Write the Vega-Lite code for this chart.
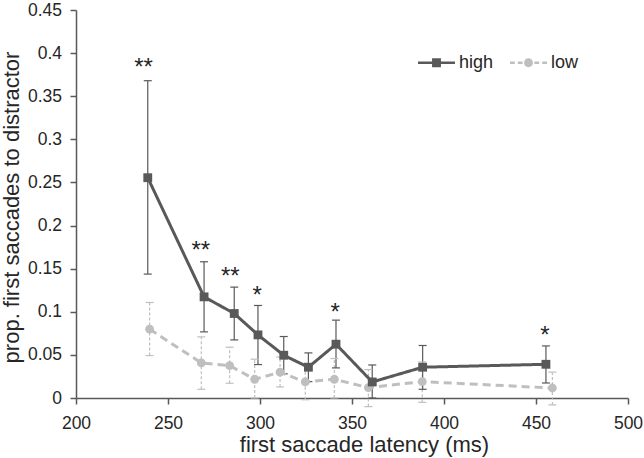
{
  "$schema": "https://vega.github.io/schema/vega-lite/v6.json",
  "width": 552,
  "height": 388,
  "autosize": {"type": "none"},
  "padding": {"left": 76, "top": 10, "right": 16, "bottom": 60},
  "background": "white",
  "config": {
    "view": {"stroke": null},
    "font": "Liberation Sans"
  },
  "datasets": {
    "series": [
      {"cond": "low", "latency": 240, "prop": 0.0798, "lo": 0.0492, "hi": 0.1108},
      {"cond": "low", "latency": 268.1, "prop": 0.0407, "lo": 0.0101, "hi": 0.0709},
      {"cond": "low", "latency": 283.5, "prop": 0.0376, "lo": 0.0171, "hi": 0.0589},
      {"cond": "low", "latency": 297.1, "prop": 0.0217, "lo": 0.0, "hi": 0.045},
      {"cond": "low", "latency": 310.9, "prop": 0.0299, "lo": 0.0128, "hi": 0.0476},
      {"cond": "low", "latency": 324.6, "prop": 0.0186, "lo": -0.002, "hi": 0.04},
      {"cond": "low", "latency": 340.4, "prop": 0.0217, "lo": 0.0, "hi": 0.0458},
      {"cond": "low", "latency": 358.9, "prop": 0.0121, "lo": -0.01, "hi": 0.033},
      {"cond": "low", "latency": 388.2, "prop": 0.019, "lo": -0.005, "hi": 0.0418},
      {"cond": "low", "latency": 458.9, "prop": 0.0116, "lo": -0.008, "hi": 0.03},
      {"cond": "high", "latency": 239, "prop": 0.2555, "lo": 0.1437, "hi": 0.368},
      {"cond": "high", "latency": 269.6, "prop": 0.1173, "lo": 0.0767, "hi": 0.158},
      {"cond": "high", "latency": 286, "prop": 0.098, "lo": 0.0674, "hi": 0.1286},
      {"cond": "high", "latency": 298.9, "prop": 0.0732, "lo": 0.0388, "hi": 0.1073},
      {"cond": "high", "latency": 312.9, "prop": 0.0496, "lo": 0.028, "hi": 0.0713},
      {"cond": "high", "latency": 326.3, "prop": 0.0357, "lo": 0.019, "hi": 0.0523},
      {"cond": "high", "latency": 341.3, "prop": 0.0624, "lo": 0.0349, "hi": 0.0903},
      {"cond": "high", "latency": 361, "prop": 0.0186, "lo": 0.0, "hi": 0.0383},
      {"cond": "high", "latency": 388.4, "prop": 0.0357, "lo": 0.0101, "hi": 0.0609},
      {"cond": "high", "latency": 455.4, "prop": 0.0391, "lo": 0.0174, "hi": 0.0604}
    ],
    "stars": [
      {"latency": 236.7, "pos": 0.389, "label": "**"},
      {"latency": 267.8, "pos": 0.176, "label": "**"},
      {"latency": 283.9, "pos": 0.146, "label": "**"},
      {"latency": 298.4, "pos": 0.124, "label": "*"},
      {"latency": 340.8, "pos": 0.1048, "label": "*"},
      {"latency": 454.9, "pos": 0.0775, "label": "*"}
    ]
  },
  "encoding": {
    "x": {
      "field": "latency", "type": "quantitative",
      "scale": {"domain": [200, 500], "nice": false, "zero": false},
      "axis": {
        "title": "first saccade latency (ms)",
        "values": [200, 250, 300, 350, 400, 450, 500],
        "grid": false,
        "domainColor": "#595959", "domainWidth": 1.5,
        "tickColor": "#595959", "tickWidth": 1.5, "tickSize": 6,
        "labelFontSize": 17.5, "labelColor": "#262626", "labelPadding": 10, "labelFlush": false,
        "titleFontSize": 22, "titleFontWeight": "normal", "titleColor": "#262626",
        "titleX": 288, "titleY": 53, "titleAlign": "center", "titleBaseline": "alphabetic"
      }
    }
  },
  "layer": [
    {
      "data": {"name": "series"},
      "layer": [
        {
          "mark": {"type": "rule", "strokeWidth": 1.2, "clip": false},
          "encoding": {
            "y": {
              "field": "lo", "type": "quantitative",
              "scale": {"domain": [0, 0.45], "nice": false},
              "axis": {
                "title": "prop. first saccades to distractor",
                "values": [0, 0.05, 0.1, 0.15, 0.2, 0.25, 0.3, 0.35, 0.4, 0.45],
                "format": ".2~f",
                "grid": false,
                "domainColor": "#595959", "domainWidth": 1.5,
                "tickColor": "#595959", "tickWidth": 1.5, "tickSize": 6,
                "labelFontSize": 17.5, "labelColor": "#262626", "labelPadding": 8.5, "labelFlush": false,
                "titleFontSize": 22, "titleFontWeight": "normal", "titleColor": "#262626",
                "titleX": -58, "titleY": 197, "titleBaseline": "alphabetic", "titleAlign": "center", "titleAngle": -90
              }
            },
            "y2": {"field": "hi"},
            "color": {"field": "cond", "type": "nominal", "scale": {"domain": ["high", "low"], "range": ["#595959", "#bfbfbf"]}},
            "strokeDash": {"condition": {"test": "datum.cond === 'low'", "value": [3, 2]}, "value": [1, 0]}
          }
        },
        {
          "mark": {"type": "tick", "thickness": 1.2, "size": 8, "orient": "horizontal", "opacity": 1},
          "encoding": {
            "y": {"field": "hi", "type": "quantitative"},
            "color": {"field": "cond", "type": "nominal"}
          }
        },
        {
          "mark": {"type": "tick", "thickness": 1.2, "size": 8, "orient": "horizontal", "opacity": 1},
          "encoding": {
            "y": {"field": "lo", "type": "quantitative"},
            "color": {"field": "cond", "type": "nominal"}
          }
        },
        {
          "mark": {"type": "line", "strokeWidth": 3},
          "encoding": {
            "y": {"field": "prop", "type": "quantitative"},
            "color": {
              "field": "cond", "type": "nominal",
              "legend": {
                "orient": "none", "legendX": 342, "legendY": 34,
                "direction": "horizontal", "title": null,
                "symbolSize": 1369, "symbolStrokeWidth": 0,
                "labelFontSize": 18, "labelColor": "#262626", "labelFont": "Liberation Sans",
                "columnPadding": 16, "labelOffset": 4, "padding": 0,
                "encode": {
                  "symbols": {
                    "update": {
                      "shape": {"signal": "datum.value === 'high' ? 'M-1,-0.07H1V0.07H-1Z M-0.24,-0.24H0.24V0.24H-0.24Z' : 'M-1,-0.07H-0.74V0.07H-1Z M-0.58,-0.07H-0.32V0.07H-0.58Z M0.32,-0.07H0.58V0.07H0.32Z M0.74,-0.07H1V0.07H0.74Z M-0.24,0A0.24,0.24 0 1,0 0.24,0A0.24,0.24 0 1,0 -0.24,0Z'"},
                      "fill": {"signal": "datum.value === 'high' ? '#595959' : '#bfbfbf'"},
                      "stroke": {"value": "transparent"},
                      "strokeDash": {"value": []},
                      "opacity": {"value": 1},
                      "size": {"value": 1369}
                    }
                  }
                }
              }
            },
            "strokeDash": {"condition": {"test": "datum.cond === 'low'", "value": [8, 5]}, "value": [1, 0]}
          }
        },
        {
          "mark": {"type": "point", "filled": true, "size": 78, "opacity": 1},
          "encoding": {
            "y": {"field": "prop", "type": "quantitative"},
            "color": {"field": "cond", "type": "nominal"},
            "shape": {"condition": {"test": "datum.cond === 'high'", "value": "square"}, "value": "circle"}
          }
        }
      ]
    },
    {
      "data": {"name": "stars"},
      "mark": {"type": "text", "fontSize": 24, "font": "Liberation Sans", "color": "#262626", "baseline": "middle", "dy": 5},
      "encoding": {
        "y": {"field": "pos", "type": "quantitative"},
        "text": {"field": "label"}
      }
    }
  ]
}
